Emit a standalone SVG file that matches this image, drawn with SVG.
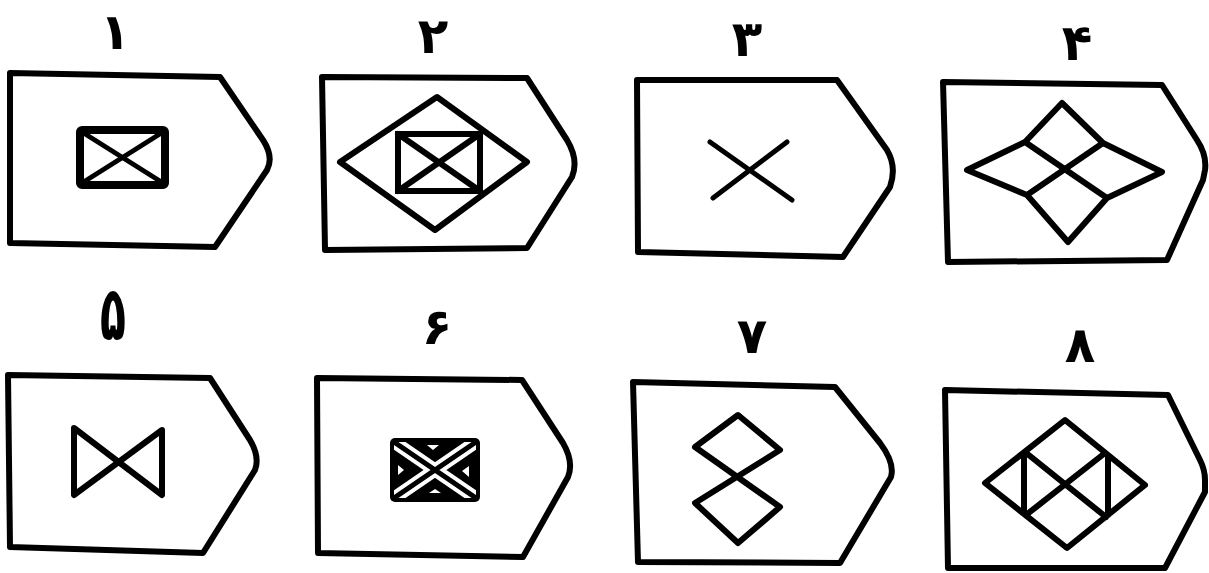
<svg xmlns="http://www.w3.org/2000/svg" width="1209" height="573" viewBox="0 0 1209 573">
<style>
.frame{fill:none;stroke:#000;stroke-width:6;stroke-linejoin:round;stroke-linecap:round}
.fig{fill:none;stroke:#000;stroke-width:6;stroke-linejoin:round;stroke-linecap:round}
.thin{fill:none;stroke:#000;stroke-width:5;stroke-linecap:round}
.lbl{font-family:"DejaVu Sans",sans-serif;font-weight:bold;font-size:50px;fill:#000;text-anchor:middle}
</style>
<defs>
<clipPath id="c6"><rect x="394" y="442" width="82" height="56"/></clipPath>
</defs>
<rect width="1209" height="573" fill="#fff"/>

<g id="panel1">
<text class="lbl" x="115" y="49">۱</text>
<path class="frame" d="M10,73 L220,77 L263,140 Q274,157 267,170 L215,247 L10,243 Z"/>
<rect x="80" y="130" width="85" height="55" rx="2" fill="none" stroke="#000" stroke-width="8"/>
<path class="thin" d="M82,132 L163,183 M163,132 L82,183"/>
</g>

<g id="panel2">
<text class="lbl" x="433" y="53">۲</text>
<path class="frame" d="M322,77 L527,78 L567,140 Q579,160 572,177 L527,248 L325,250 Z"/>
<path class="fig" d="M437,97 L527,162 L435,230 L340,162 Z"/>
<rect x="398" y="134" width="82" height="57" fill="none" stroke="#000" stroke-width="6"/>
<path class="fig" d="M398,134 L480,191 M480,134 L398,191"/>
</g>

<g id="panel3">
<text class="lbl" x="747" y="56">۳</text>
<path class="frame" d="M637,80 L837,80 L887,150 Q897,167 890,187 L843,257 L638,252 Z"/>
<path class="thin" d="M710,142 L792,200 M787,142 L713,198"/>
</g>

<g id="panel4">
<text class="lbl" x="1077" y="60">۴</text>
<path class="frame" d="M943,82 L1162,85 L1197,140 Q1207,155 1205,170 L1203,180 L1167,260 L948,262 Z"/>
<path class="fig" d="M967,170 L1025,142 L1062,103 L1103,143 L1162,172 L1107,198 L1068,242 L1027,195 Z M1025,142 L1107,198 M1103,143 L1027,195"/>
</g>

<g id="panel5">
<text class="lbl" x="0" y="0" transform="translate(113,340) scale(0.85,1.5)">۵</text>
<path class="frame" d="M8,375 L210,378 L250,440 Q260,457 255,470 L203,553 L10,547 Z"/>
<path class="fig" d="M74,428 L162,495 L162,430 L74,495 Z"/>
</g>

<g id="panel6">
<text class="lbl" x="437" y="344">۶</text>
<path class="frame" d="M317,378 L522,380 L563,443 Q574,462 568,477 L523,557 L318,553 Z"/>
<rect x="390" y="438" width="90" height="64" rx="5" fill="#000"/>
<g clip-path="url(#c6)">
<path d="M394,442 L476,498 M476,442 L394,498" stroke="#fff" stroke-width="13" fill="none"/>
<path d="M394,442 L476,498 M476,442 L394,498" stroke="#000" stroke-width="5" fill="none"/>
<path d="M427,445 L439,445 L433,450 Z M398,465 L404,470 L398,475 Z M469,466 L469,477 L462,471 Z M429,493 L435,489 L441,493 Z" fill="#fff"/>
</g>
</g>

<g id="panel7">
<text class="lbl" x="752" y="353">۷</text>
<path class="frame" d="M633,382 L835,387 L880,443 Q895,463 891,477 L840,563 L638,562 Z"/>
<path class="fig" d="M738,415 L780,450 L695,503 L738,543 L780,507 L695,447 Z"/>
</g>

<g id="panel8">
<text class="lbl" x="1080" y="362">۸</text>
<path class="frame" d="M945,390 L1168,395 L1200,460 Q1205,470 1205,480 L1205,492 L1165,568 L948,568 Z"/>
<path class="fig" d="M1065,420 L1145,485 L1067,548 L985,483 Z M1025,452 L1106,517 M1105,453 L1026,515 M1024,453 L1024,513 M1108,456 L1108,515"/>
</g>
</svg>
